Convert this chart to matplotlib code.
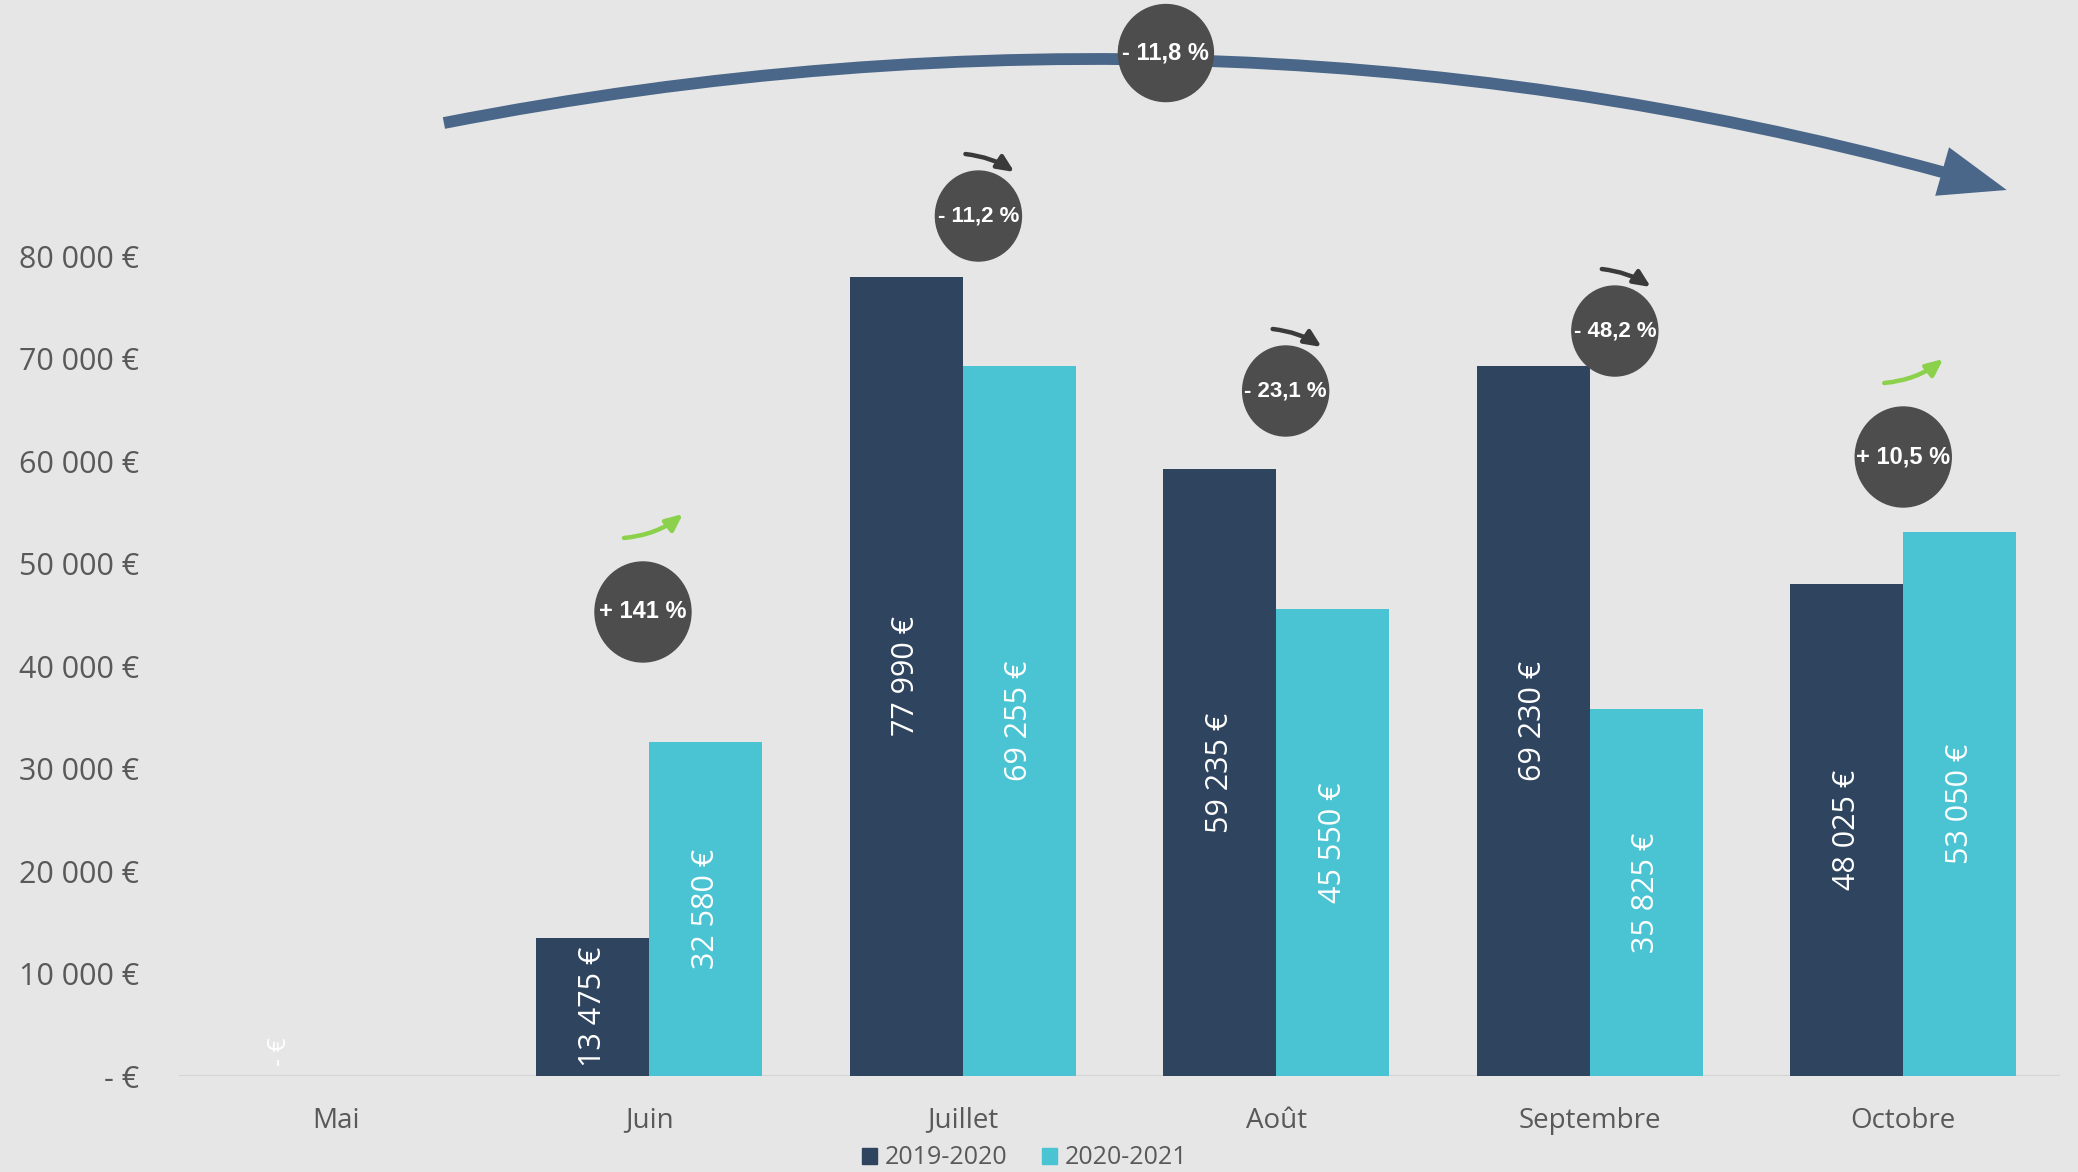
import numpy as np
import matplotlib
matplotlib.use("Agg")
import matplotlib.pyplot as plt
from matplotlib.patches import Ellipse, FancyArrowPatch, Patch
from matplotlib.transforms import IdentityTransform

# ---------------- data ----------------
categories = ["Mai", "Juin", "Juillet", "Août", "Septembre", "Octobre"]
series_names = ["2019-2020", "2020-2021"]
values_2019 = [0, 13475, 77990, 59235, 69230, 48025]
values_2020 = [np.nan, 32580, 69255, 45550, 35825, 53050]
yticks = [0, 10000, 20000, 30000, 40000, 50000, 60000, 70000, 80000]
ytick_labels = ["- €", "10 000 €", "20 000 €", "30 000 €", "40 000 €",
                "50 000 €", "60 000 €", "70 000 €", "80 000 €"]
badge_labels = ["+ 141 %", "- 11,2 %", "- 23,1 %", "- 48,2 %", "+ 10,5 %"]
badge_x = [0.98, 2.05, 3.03, 4.08, 5.0]
badge_y = [45270, 83900, 66830, 72680, 60390]
badge_up = [True, False, False, False, True]
total_label = "- 11,8 %"

# ---------------- style ----------------
BG = "#E6E6E6"
DARK = "#2F445E"
CYAN = "#4AC4D3"
BADGE = "#4D4D4D"
BIG = "#4A6789"
GREEN = "#8BD14B"
TXT = "#595959"
FONT = ["Open Sans", "DejaVu Sans"]
BOLD = ["Liberation Sans", "DejaVu Sans"]

W, H = 2078, 1172
fig = plt.figure(figsize=(W / 100, H / 100), dpi=100, facecolor=BG)
ax = fig.add_axes([179 / W, 96 / H, 1881 / W, 1076 / H])
ax.set_facecolor(BG)
ax.set_xlim(-0.5, 5.5)
ax.set_ylim(0, 104976)
for s in ax.spines.values():
    s.set_visible(False)
ax.axhline(0, color="#D4D4D4", lw=1.5, zorder=1)

x = np.arange(len(categories))
bw = 0.36
ax.bar(x - bw / 2, values_2019, bw, color=DARK, zorder=2)
ax.bar(x + bw / 2, values_2020, bw, color=CYAN, zorder=2)

def fmt(v):
    return "{:,}".format(int(v)).replace(",", " ") + " €"

for xi, v in zip(x - bw / 2, values_2019):
    if v == 0:
        ax.text(xi, 1000, "- €", rotation=90, ha="center", va="bottom",
                color="white", fontsize=18, family=FONT, zorder=3)
    else:
        ax.text(xi, v / 2, fmt(v), rotation=90, ha="center", va="center",
                color="white", fontsize=22, family=FONT, zorder=3)
for xi, v in zip(x + bw / 2, values_2020):
    if not np.isnan(v):
        ax.text(xi, v / 2, fmt(v), rotation=90, ha="center", va="center",
                color="white", fontsize=22, family=FONT, zorder=3)

ax.set_yticks(yticks)
ax.set_yticklabels(ytick_labels, family=FONT, fontsize=22, color=TXT)
ax.set_xticks(x)
ax.set_xticklabels(categories, family=FONT, fontsize=20, color=TXT)
ax.tick_params(axis="y", length=0, pad=29)
ax.tick_params(axis="x", length=0, pad=22)

# legend
handles = [Patch(color=DARK), Patch(color=CYAN)]
leg = fig.legend(handles, series_names, loc="center", bbox_to_anchor=(0.493, 0.012),
                 ncol=2, frameon=False, handlelength=0.6, handleheight=0.6,
                 handletextpad=0.3, columnspacing=1.4,
                 prop={"family": FONT, "size": 18})
for t in leg.get_texts():
    t.set_color(TXT)

fig.canvas.draw()
to_px = ax.transData.transform

def ellipse(cx, cy, w, h):
    e = Ellipse((cx, cy), w, h, transform=IdentityTransform(), color=BADGE, zorder=6)
    fig.add_artist(e)

# big arrow
p0 = to_px((0.345, 92976))
p1 = to_px((5.33, 86440))
big = FancyArrowPatch(p0, p1, transform=IdentityTransform(),
                      connectionstyle="arc3,rad=-0.12",
                      arrowstyle="-|>,head_length=32,head_width=12",
                      mutation_scale=1, lw=8.5, color=BIG, zorder=5,
                      shrinkA=0, shrinkB=0, capstyle="butt", joinstyle="miter")
fig.add_artist(big)

# total badge
tc = to_px((2.648, 99800))
ellipse(tc[0], tc[1], 95, 97)
fig.text(tc[0] / W, tc[1] / H, total_label, ha="center", va="center",
         color="white", fontsize=17, fontweight="bold", family=BOLD, zorder=7)

# monthly badges
for bx, by, lab, up in zip(badge_x, badge_y, badge_labels, badge_up):
    c = to_px((bx, by))
    d = 96 if up else 86
    ellipse(c[0], c[1], d, d + 4)
    fig.text(c[0] / W, c[1] / H, lab, ha="center", va="center",
             color="white", fontsize=17 if up else 16, fontweight="bold",
             family=BOLD, zorder=7)
    if up:
        a = (c[0] - 19, c[1] + 74)
        b = (c[0] + 40, c[1] + 98)
        col, rad = GREEN, 0.15
    else:
        a = (c[0] - 13, c[1] + 62)
        b = (c[0] + 36, c[1] + 44)
        col, rad = "#3A3A3A", -0.12
    arr = FancyArrowPatch(a, b, transform=IdentityTransform(),
                          connectionstyle=f"arc3,rad={rad}",
                          arrowstyle="-|>,head_length=10,head_width=4.5",
                          mutation_scale=1, lw=3.2, color=col, zorder=6,
                          shrinkA=0, shrinkB=0)
    fig.add_artist(arr)

fig.savefig("out.png", dpi=100, facecolor=BG)
